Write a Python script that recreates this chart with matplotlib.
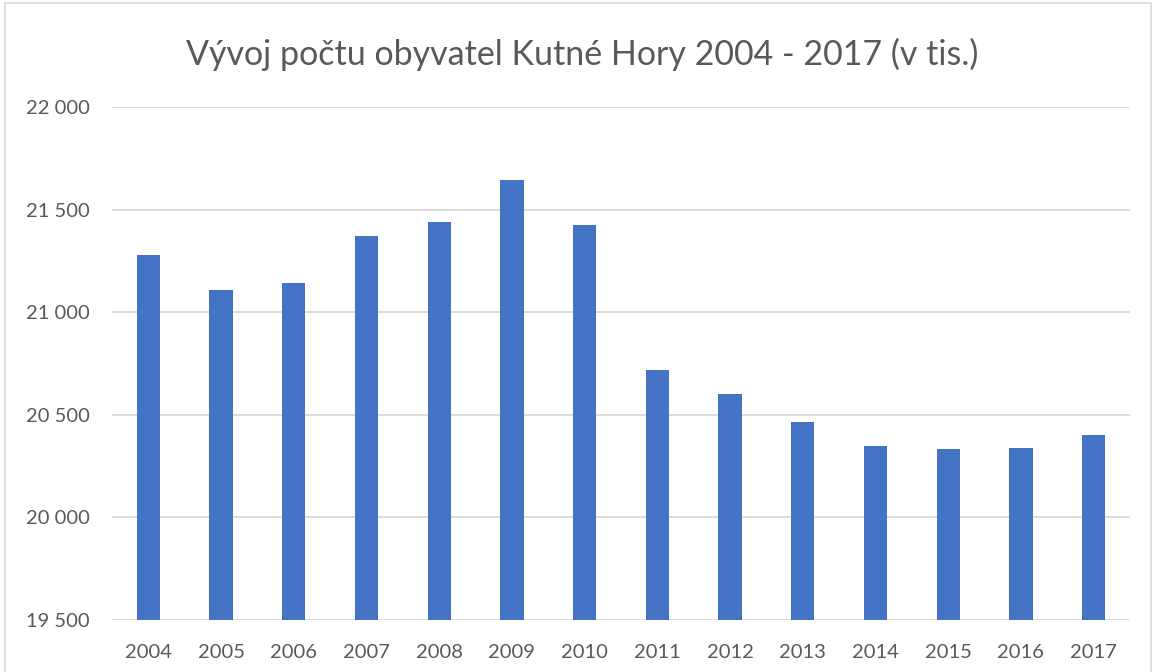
import matplotlib.pyplot as plt
from matplotlib.patches import Rectangle
from matplotlib.ticker import FuncFormatter

years = ['2004', '2005', '2006', '2007', '2008', '2009', '2010',
         '2011', '2012', '2013', '2014', '2015', '2016', '2017']
population = [21280, 21107, 21140, 21371, 21441, 21645, 21423,
              20716, 20602, 20467, 20346, 20333, 20340, 20403]

plt.rcParams['font.family'] = ['Lato', 'DejaVu Sans']

fig = plt.figure(figsize=(11.56, 6.72), dpi=100)
ax = fig.add_axes([112 / 1156, 1 - 620 / 672, (1130 - 112) / 1156, (620 - 107) / 672])

ax.bar(range(len(years)), population, width=0.32, color='#4472C4', zorder=3)

ax.set_xlim(-0.5, len(years) - 0.5)
ax.set_ylim(19500, 22000)
ax.set_yticks([19500, 20000, 20500, 21000, 21500, 22000])
ax.yaxis.set_major_formatter(FuncFormatter(lambda v, p: f'{int(v):,}'.replace(',', ' ')))
ax.set_xticks(range(len(years)))
ax.set_xticklabels(years)

ax.grid(axis='y', color='#D9D9D9', linewidth=1.3, zorder=0)
for s in ax.spines.values():
    s.set_visible(False)
ax.tick_params(length=0, colors='#595959', labelsize=14.5)
ax.tick_params(axis='y', pad=16)
ax.tick_params(axis='x', pad=17)

fig.text(0.504, 1 - 54 / 672, 'Vývoj počtu obyvatel Kutné Hory 2004 - 2017 (v tis.)',
         ha='center', va='center', fontsize=24.5, color='#595959')

# chart area border
fig.patches.append(Rectangle((5 / 1156, -0.01), 1146 / 1156, 1 - 3 / 672 + 0.01,
                             transform=fig.transFigure, fill=False,
                             edgecolor='#D9D9D9', linewidth=1.2))

plt.savefig('out.png', dpi=100)
